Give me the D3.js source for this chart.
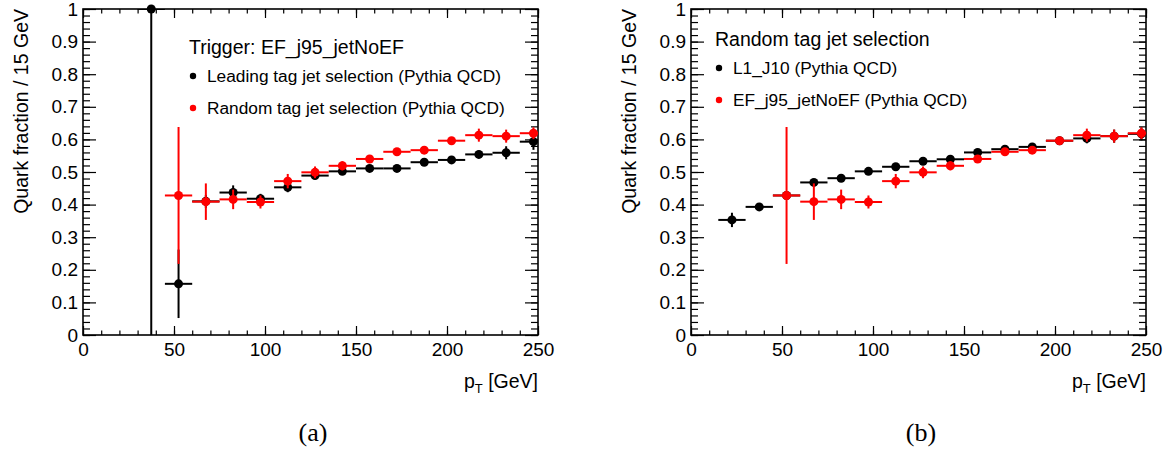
<!DOCTYPE html>
<html>
<head>
<meta charset="utf-8">
<script src="https://cdn.jsdelivr.net/npm/d3@7"></script>
<style>
  body { margin: 0; background: #fff; }
  text { font-family: "Liberation Sans", Arial, sans-serif; fill: #000; }
  .caption { font-family: "Liberation Serif", "Times New Roman", serif; }
</style>
</head>
<body>
<div id="chart"></div>
<script>
"use strict";

/*** Data (bin centres in GeV, 15 GeV bins) */
const leadX   = [37.5, 52.5, 67.5, 82.5, 97.5, 112.5, 127.5, 142.5, 157.5, 172.5, 187.5, 202.5, 217.5, 232.5, 247.5];
const leadY   = [1.0, 0.157, 0.410, 0.437, 0.418, 0.453, 0.489, 0.502, 0.511, 0.511, 0.530, 0.537, 0.554, 0.559, 0.593];
const leadErr = [1.0, 0.105, 0.020, 0.022, 0.015, 0.015, 0.012, 0.010, 0.008, 0.008, 0.008, 0.008, 0.012, 0.020, 0.025];

const randX   = [52.5, 67.5, 82.5, 97.5, 112.5, 127.5, 142.5, 157.5, 172.5, 187.5, 202.5, 217.5, 232.5, 247.5];
const randY   = [0.428, 0.409, 0.416, 0.408, 0.472, 0.499, 0.519, 0.540, 0.562, 0.567, 0.596, 0.613, 0.610, 0.619];
const randErr = [0.210, 0.056, 0.030, 0.020, 0.022, 0.018, 0.014, 0.010, 0.010, 0.010, 0.010, 0.020, 0.020, 0.018];

const l1X   = [22.5, 37.5, 52.5, 67.5, 82.5, 97.5, 112.5, 127.5, 142.5, 157.5, 172.5, 187.5, 202.5, 217.5, 232.5, 247.5];
const l1Y   = [0.353, 0.393, 0.428, 0.468, 0.481, 0.502, 0.516, 0.533, 0.539, 0.560, 0.570, 0.577, 0.596, 0.603, 0.610, 0.617];
const l1Err = [0.022, 0.012, 0.010, 0.008, 0.006, 0.006, 0.006, 0.006, 0.006, 0.007, 0.008, 0.008, 0.008, 0.015, 0.020, 0.020];

const binHalf = 7.5;
const xMajor = [0, 50, 100, 150, 200, 250];
const yMajor = [0, 0.1, 0.2, 0.3, 0.4, 0.5, 0.6, 0.7, 0.8, 0.9, 1];

const yTitle = "Quark fraction / 15 GeV";

const panels = [
  { id: "a", left: 83, caption: "(a)", legendTitle: "Trigger: EF_j95_jetNoEF", legendTop: 54,
    series: [
      { x: leadX, y: leadY, err: leadErr, color: "#000", label: "Leading tag jet selection (Pythia QCD)" },
      { x: randX, y: randY, err: randErr, color: "#ff0000", label: "Random tag jet selection (Pythia QCD)" }
    ], legendX: 189 },
  { id: "b", left: 691, caption: "(b)", legendTitle: "Random tag jet selection", legendTop: 46,
    series: [
      { x: l1X, y: l1Y, err: l1Err, color: "#000", label: "L1_J10 (Pythia QCD)" },
      { x: randX, y: randY, err: randErr, color: "#ff0000", label: "EF_j95_jetNoEF (Pythia QCD)" }
    ], legendX: 715 }
];

/* Frame dimensions */
const W = 1164, H = 452;
const frameTop = 9, plotH = 326, plotW = 455;

const svg = d3.select("#chart").append("svg")
  .attr("width", W).attr("height", H);

panels.forEach(p => {
  const g = svg.append("g").attr("transform", `translate(${p.left},${frameTop})`);
  const x = d3.scaleLinear().domain([0, 250]).range([0, plotW]);
  const y = d3.scaleLinear().domain([0, 1]).range([plotH, 0]);

  g.append("clipPath").attr("id", "clip" + p.id)
    .append("rect").attr("width", plotW).attr("height", plotH);

  /** axes, ticks inward on all four sides */
  const fmtY = d => String(+d.toFixed(1));
  g.append("g").call(d3.axisLeft(y).ticks(50).tickSize(-7).tickFormat(""));
  g.append("g").call(d3.axisLeft(y).tickValues(yMajor).tickSize(-13).tickPadding(5).tickFormat(fmtY));
  g.append("g").attr("transform", `translate(${plotW},0)`).call(d3.axisRight(y).ticks(50).tickSize(-7).tickFormat(""));
  g.append("g").attr("transform", `translate(${plotW},0)`).call(d3.axisRight(y).tickValues(yMajor).tickSize(-13).tickFormat(""));

  g.append("g").attr("transform", `translate(0,${plotH})`).call(d3.axisBottom(x).ticks(25).tickSize(-4.5).tickFormat(""));
  g.append("g").attr("transform", `translate(0,${plotH})`).call(d3.axisBottom(x).tickValues(xMajor).tickSize(-9).tickPadding(8).tickFormat(d3.format("d")));
  g.append("g").call(d3.axisTop(x).ticks(25).tickSize(-4.5).tickFormat(""));
  g.append("g").call(d3.axisTop(x).tickValues(xMajor).tickSize(-9).tickFormat(""));

  g.selectAll(".domain").remove();
  g.selectAll(".tick line").attr("stroke", "#000").attr("stroke-width", 1.2);
  g.selectAll(".tick text").attr("font-size", 19).attr("font-family", "Liberation Sans, Arial, sans-serif");

  g.append("rect").attr("width", plotW).attr("height", plotH)
    .attr("fill", "none").attr("stroke", "#000").attr("stroke-width", 1.6);

  /** data: error bars then markers */
  p.series.forEach(s => {
    const pts = s.x.map((d, i) => ({ x: d, y: s.y[i], e: s.err[i] }));
    const eg = g.append("g").attr("clip-path", `url(#clip${p.id})`)
      .attr("stroke", s.color).attr("stroke-width", 2);
    eg.selectAll(".h").data(pts).enter().append("line")
      .attr("x1", d => x(d.x - binHalf)).attr("x2", d => x(d.x + binHalf))
      .attr("y1", d => y(d.y)).attr("y2", d => y(d.y));
    eg.selectAll(".v").data(pts).enter().append("line")
      .attr("x1", d => x(d.x)).attr("x2", d => x(d.x))
      .attr("y1", d => y(d.y - d.e)).attr("y2", d => y(d.y + d.e));
    g.append("g").selectAll("circle").data(pts).enter().append("circle")
      .attr("cx", d => x(d.x)).attr("cy", d => y(d.y)).attr("r", 4.5)
      .attr("fill", s.color);
  });

  /** legend */
  const lg = svg.append("g");
  lg.append("text").attr("x", p.legendX).attr("y", p.legendTop)
    .attr("font-size", 19.5).text(p.legendTitle);
  p.series.forEach((s, i) => {
    const by = p.legendTop + 28 + i * 32;
    lg.append("circle").attr("cx", p.legendX + 4).attr("cy", by - 6).attr("r", 3.2).attr("fill", s.color);
    lg.append("text").attr("x", p.legendX + 18).attr("y", by)
      .attr("font-size", 17.3).text(s.label);
  });

  /** axis titles */
  svg.append("text")
    .attr("transform", `translate(${p.left - 55},${frameTop}) rotate(-90)`)
    .attr("text-anchor", "end").attr("font-size", 19.5).text(yTitle);

  const xt = svg.append("text").attr("x", p.left + plotW).attr("y", frameTop + plotH + 53)
    .attr("text-anchor", "end").attr("font-size", 19.5);
  xt.append("tspan").text("p");
  xt.append("tspan").attr("dy", 5).attr("font-size", 13).text("T");
  xt.append("tspan").attr("dy", -5).text(" [GeV]");

  svg.append("text").attr("class", "caption")
    .attr("x", p.left + 230).attr("y", 441)
    .attr("text-anchor", "middle").attr("font-size", 26).text(p.caption);
});
</script>
</body>
</html>
